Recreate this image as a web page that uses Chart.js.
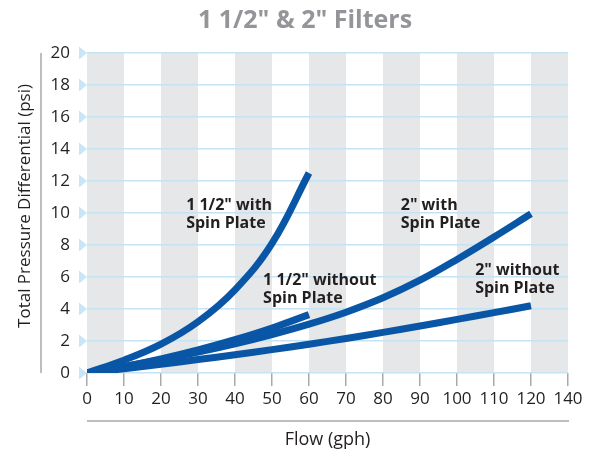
<!DOCTYPE html>
<html>
<head>
<meta charset="utf-8">
<script src="https://cdn.jsdelivr.net/npm/chart.js@4"></script>
<style>
  html,body{margin:0;padding:0;background:#fff;}
</style>
</head>
<body>
<canvas id="myChart" width="590" height="452"></canvas>
<script>
'use strict';

// 1 1/2" filter curves (flow in gph, pressure in psi)
const flowSmall = [0, 10, 20, 30, 40, 50, 60];
const smallWithPlate = [0, 0.8, 1.8, 3.2, 5.2, 8.1, 12.5];
const smallNoPlate = [0, 0.4, 0.88, 1.44, 2.08, 2.81, 3.65];

// 2" filter curves
const flowBig = [0, 10, 20, 30, 40, 50, 60, 70, 80, 90, 100, 110, 120];
const bigWithPlate = [0, 0.4, 0.83, 1.3, 1.82, 2.4, 3.05, 3.8, 4.7, 5.8, 7.1, 8.5, 9.95];
const bigNoPlate = [0, 0.27, 0.55, 0.84, 1.14, 1.46, 1.8, 2.16, 2.54, 2.94, 3.35, 3.77, 4.2];

const xTickLabels = ['0','10','20','30','40','50','60','70','80','90','100','110','120','140'];
const yTickLabels = ['0','2','4','6','8','10','12','14','16','18','20'];

const chartTitle = '1 1/2" & 2" Filters';
const yTitle = 'Total Pressure Differential (psi)';
const curveNames = [
  ['1 1/2" with', 'Spin Plate'],
  ['1 1/2" without', 'Spin Plate'],
  ['2" with', 'Spin Plate'],
  ['2" without', 'Spin Plate']
];

const blue = '#0a56a6';
const darkText = '#231f20';

function toPoints(xs, ys){
  let pts = [];
  for(let i=0;i<xs.length;i++){
    pts.push({x: xs[i], y: ys[i]});
  }
  return pts;
}

function lineSet(xs, ys){
  return {
    data: toPoints(xs, ys),
    borderColor: blue,
    borderWidth: 7,
    borderCapStyle: 'butt',
    pointRadius: 0,
    fill: false,
    tension: 0.4
  };
}

// where the curve names sit, in data units (left edge, first line)
const notePlaces = [
  {x: 26.8, y: 10.5},
  {x: 47.6, y: 5.8},
  {x: 84.8, y: 10.5},
  {x: 104.9, y: 6.4}
];

const decor = {
  id: 'decor',
  beforeDraw(chart){
    const {ctx, chartArea, scales} = chart;
    const x = scales.x;
    ctx.save();
    ctx.fillStyle = '#fff';
    ctx.fillRect(0, 0, chart.width, chart.height);
    // gray columns every other 10 gph
    ctx.fillStyle = '#e6e7e8';
    for(let v=0; v<130; v+=20){
      let a = x.getPixelForValue(v);
      let b = x.getPixelForValue(v+10);
      ctx.fillRect(a, chartArea.top, b-a, chartArea.bottom-chartArea.top);
    }
    ctx.restore();
  },
  afterDatasetsDraw(chart){
    const {ctx, scales} = chart;
    ctx.save();
    ctx.fillStyle = darkText;
    ctx.font = 'bold 16px "Open Sans"';
    ctx.textAlign = 'left';
    ctx.textBaseline = 'middle';
    for(let i=0;i<curveNames.length;i++){
      let px = scales.x.getPixelForValue(notePlaces[i].x);
      let py = scales.y.getPixelForValue(notePlaces[i].y);
      ctx.fillText(curveNames[i][0], px, py);
      ctx.fillText(curveNames[i][1], px, py+18);
    }
    ctx.restore();
  },
  afterDraw(chart){
    const {ctx, chartArea, scales} = chart;
    const y = scales.y;
    ctx.save();
    // little arrow heads on the y ticks
    ctx.fillStyle = '#c8e6f7';
    y.ticks.forEach(t => {
      let py = y.getPixelForValue(t.value);
      ctx.beginPath();
      ctx.moveTo(chartArea.left-8, py-6.5);
      ctx.lineTo(chartArea.left, py);
      ctx.lineTo(chartArea.left-8, py+6.5);
      ctx.closePath();
      ctx.fill();
    });
    // rules next to the axis titles
    ctx.strokeStyle = '#a7a9ac';
    ctx.lineWidth = 1.5;
    ctx.beginPath();
    ctx.moveTo(41, chartArea.top);
    ctx.lineTo(41, chartArea.bottom);
    ctx.moveTo(chartArea.left, 421);
    ctx.lineTo(chartArea.right+1, 421);
    ctx.stroke();
    // y axis title
    ctx.fillStyle = darkText;
    ctx.font = '17px "Open Sans"';
    ctx.textAlign = 'center';
    ctx.textBaseline = 'middle';
    ctx.translate(25, 206);
    ctx.rotate(-Math.PI/2);
    ctx.fillText(yTitle, 0, 0);
    ctx.setTransform(1, 0, 0, 1, 0, 0);
    // title
    ctx.fillStyle = '#939598';
    ctx.font = 'bold 25px "Open Sans"';
    ctx.fillText(chartTitle, 305, 21);
    ctx.restore();
  }
};

let ctx = document.getElementById('myChart').getContext('2d');
let myChart = new Chart(ctx, {
  type: 'line',
  data: {
    datasets: [
      lineSet(flowSmall, smallWithPlate),
      lineSet(flowSmall, smallNoPlate),
      lineSet(flowBig, bigWithPlate),
      lineSet(flowBig, bigNoPlate)
    ]
  },
  options: {
    responsive: false,
    animation: false,
    layout: {padding: {top: 53, right: 22, left: 0, bottom: 0}},
    plugins: {
      legend: {display: false},
      tooltip: {enabled: false}
    },
    scales: {
      x: {
        type: 'linear',
        min: 0,
        max: 130,
        afterFit(s){ s.height = 79; },
        border: {display: false},
        grid: {
          drawOnChartArea: false,
          drawTicks: true,
          tickLength: 13,
          color: '#a7a9ac',
          lineWidth: 1.5
        },
        ticks: {
          stepSize: 10,
          autoSkip: false,
          maxRotation: 0,
          padding: 3,
          color: darkText,
          font: {family: 'Open Sans', size: 17},
          callback: (value, index) => xTickLabels[index]
        },
        title: {
          display: true,
          text: 'Flow (gph)',
          color: darkText,
          font: {family: 'Open Sans', size: 18},
          padding: {top: 0, bottom: 1}
        }
      },
      y: {
        min: 0,
        max: 20,
        afterFit(s){ s.width = 87; },
        border: {display: false},
        grid: {
          color: '#c4e4f6',
          lineWidth: 1.5,
          drawTicks: false
        },
        ticks: {
          stepSize: 2,
          padding: 17,
          color: darkText,
          font: {family: 'Open Sans', size: 17},
          callback: (value, index) => yTickLabels[index]
        }
      }
    }
  },
  plugins: [decor]
});
</script>
</body>
</html>
